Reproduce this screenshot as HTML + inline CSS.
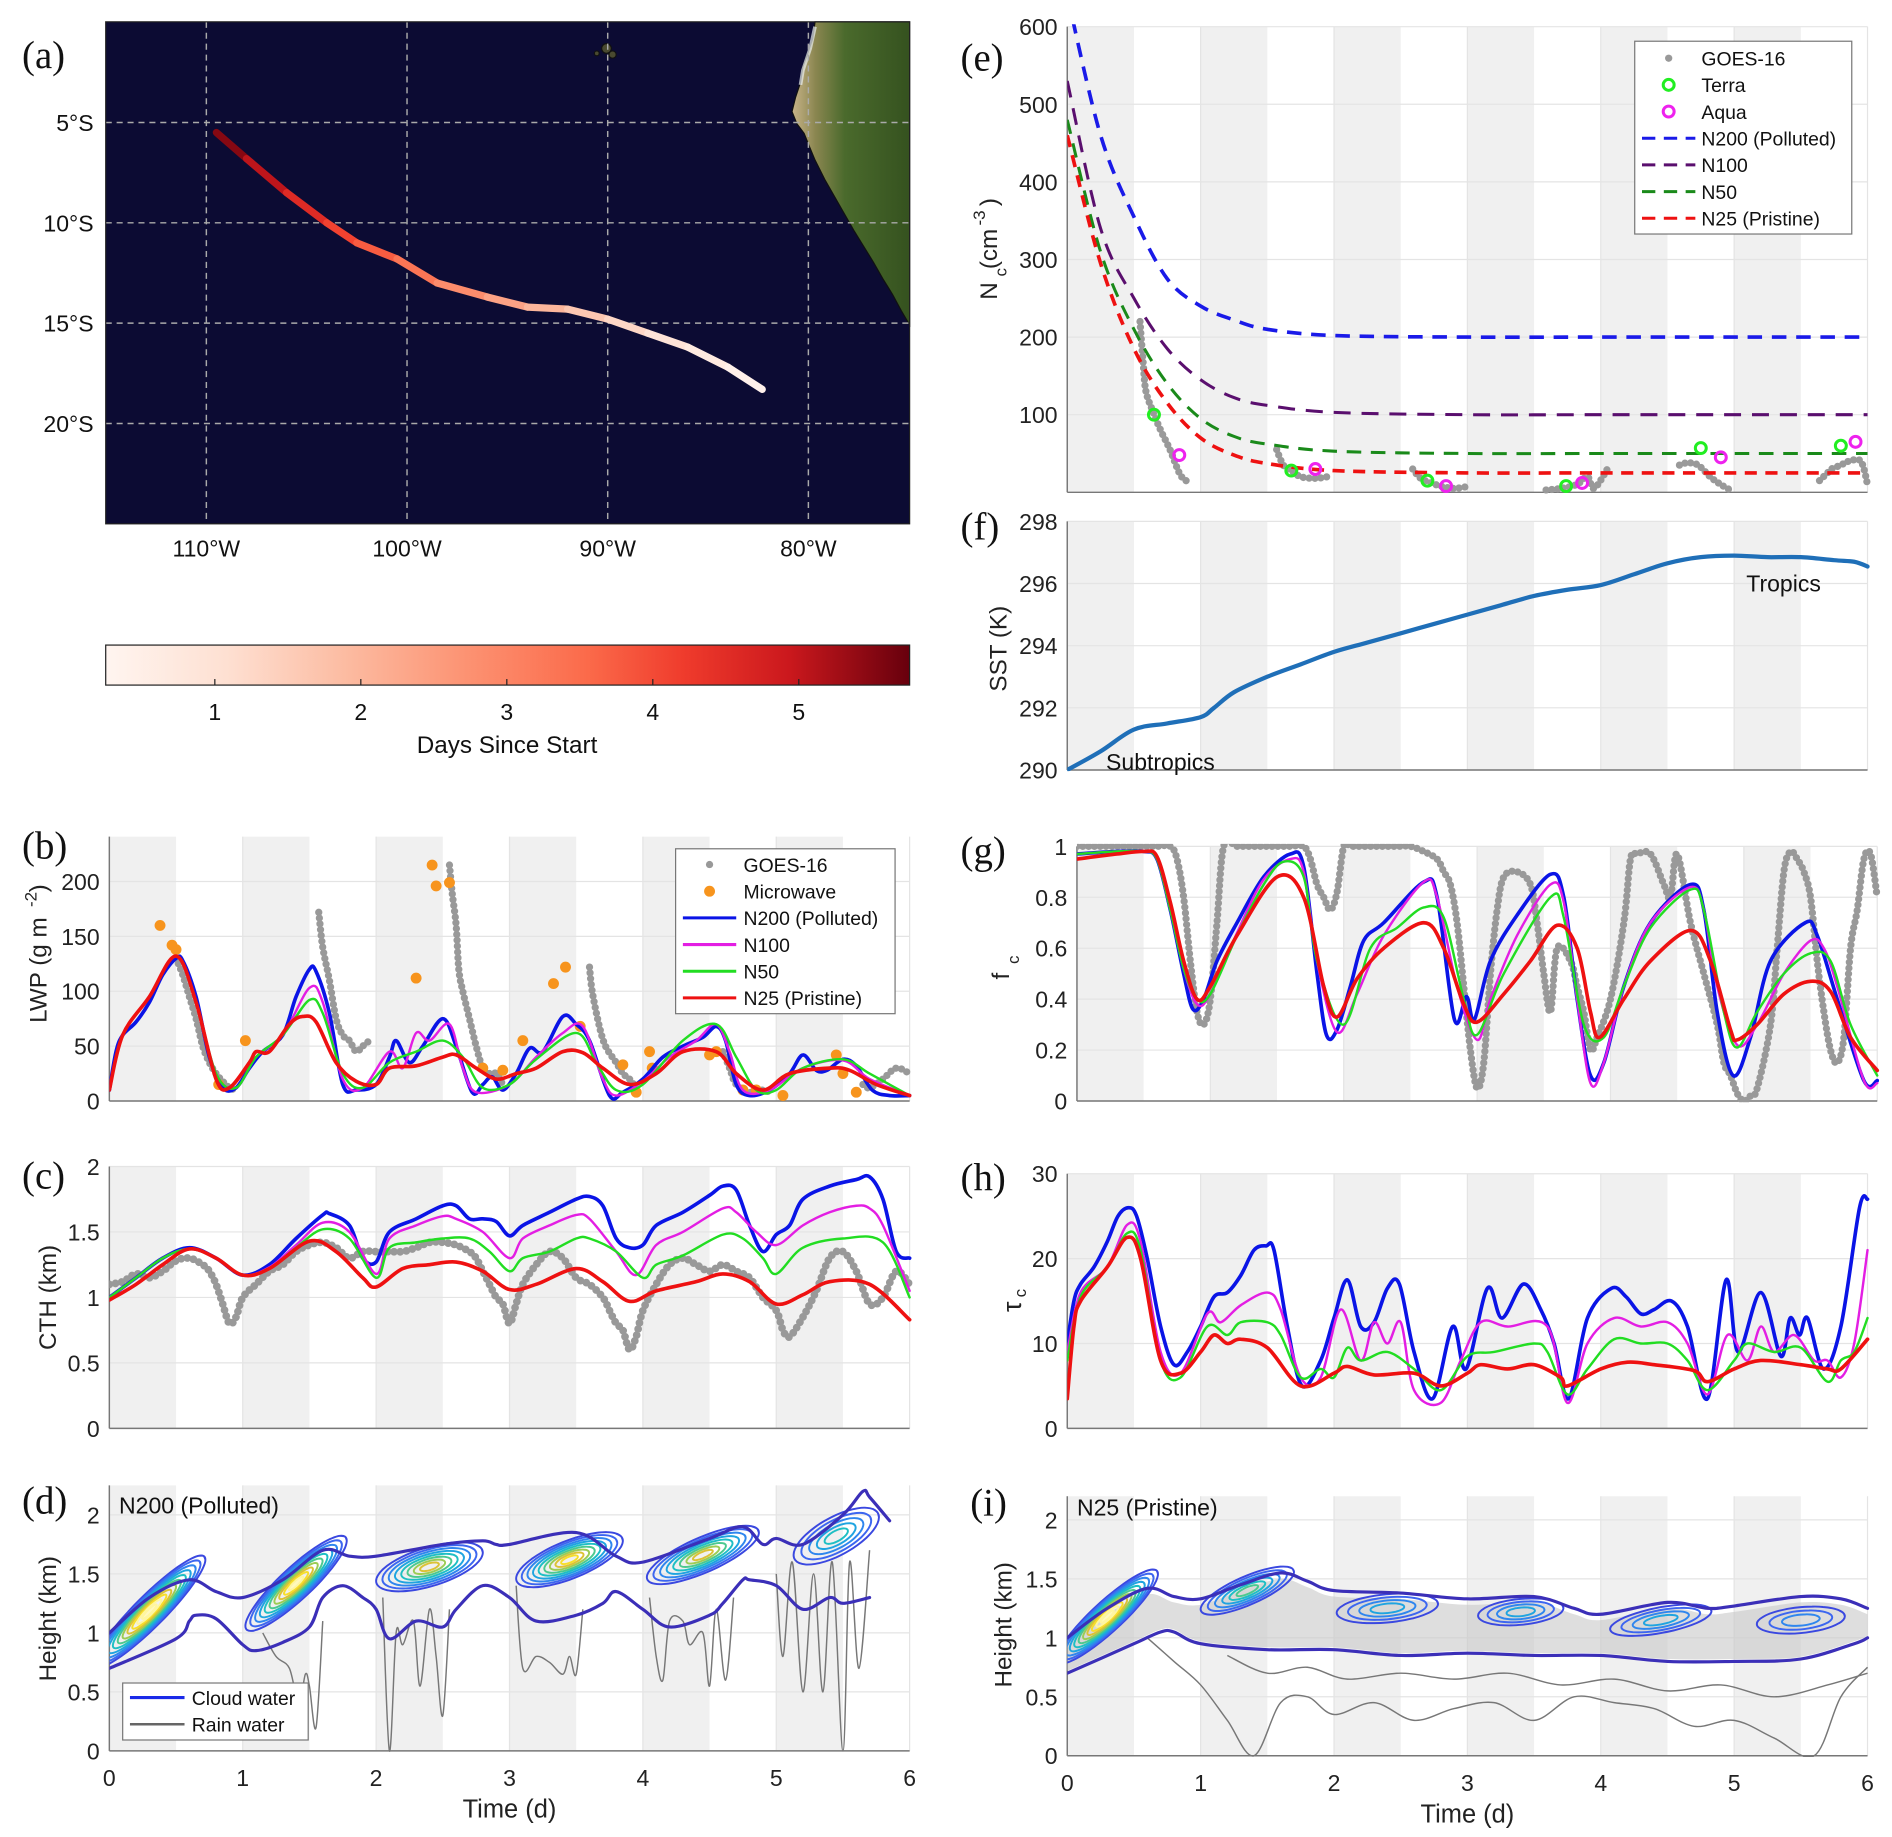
<!DOCTYPE html>
<html><head><meta charset="utf-8">
<style>
html,body{margin:0;padding:0;background:#fff;}
svg{display:block;font-family:"Liberation Sans","DejaVu Sans",sans-serif;}
</style></head>
<body>
<svg id="fig" width="1892" height="1837" viewBox="0 0 1560 1515" xmlns="http://www.w3.org/2000/svg">
<defs>
<linearGradient id="redsGrad" x1="0" x2="1" y1="0" y2="0">
<stop offset="0" stop-color="#fff5f0"/><stop offset="0.15" stop-color="#fee0d2"/><stop offset="0.3" stop-color="#fcbba1"/><stop offset="0.45" stop-color="#fc9272"/><stop offset="0.6" stop-color="#fb6a4a"/><stop offset="0.72" stop-color="#ef3b2c"/><stop offset="0.85" stop-color="#cb181d"/><stop offset="1" stop-color="#67000d"/>
</linearGradient>
<linearGradient id="landGrad" x1="0" x2="1" y1="0" y2="0">
<stop offset="0" stop-color="#c9b48a"/><stop offset="0.2" stop-color="#8a8650"/><stop offset="0.45" stop-color="#4a6a2c"/><stop offset="1" stop-color="#35521f"/>
</linearGradient>
<clipPath id="clipMap"><rect x="87" y="18" width="663" height="414"/></clipPath>
</defs>
<g id="root"></g>
</svg>
<script>
// ================= DATA =================
const trackLon=[-109.5,-108,-106,-104,-102.5,-100.5,-98.5,-96,-94,-92,-90,-88,-86,-84,-82.3];
const trackLat=[-5.5,-6.8,-8.5,-10,-11,-11.8,-13,-13.7,-14.2,-14.3,-14.8,-15.5,-16.2,-17.2,-18.3];
const trackDays=[5.7,5.3,4.8,4.3,3.95,3.55,3.1,2.6,2.2,1.8,1.45,1.1,0.8,0.5,0.3];
const lonTicks=[-110,-100,-90,-80];
const latTicks=[-5,-10,-15,-20];
const cbTicks=[1,2,3,4,5];
const dayTicks=[0,1,2,3,4,5,6];
const nightStartB=[0,1.0,2.0,3.0,4.0,5.0];

// Panel (b) LWP
const bBlueT=[0,.05,.1,.2,.3,.4,.5,.55,.65,.75,.85,.95,1.05,1.15,1.3,1.4,1.5,1.55,1.65,1.75,1.85,2.0,2.1,2.15,2.25,2.35,2.5,2.6,2.72,2.8,2.87,2.95,3.05,3.15,3.25,3.4,3.5,3.6,3.75,3.85,4.0,4.15,4.3,4.45,4.55,4.62,4.7,4.8,4.95,5.1,5.2,5.3,5.38,5.5,5.6,5.72,5.85,6.0];
const bBlueV=[10,45,60,72,90,115,130,128,95,40,12,12,30,45,60,95,120,118,80,15,10,15,40,55,35,50,75,50,8,15,22,10,25,48,45,77,70,55,5,8,20,40,50,58,68,55,15,5,10,25,42,28,28,38,32,10,5,5];
const bMagT=[0,.1,.3,.5,.65,.8,.95,1.1,1.3,1.5,1.6,1.75,1.9,2.1,2.2,2.3,2.4,2.55,2.65,2.75,3.0,3.2,3.4,3.55,3.7,3.8,4.0,4.2,4.4,4.55,4.65,4.75,4.95,5.2,5.5,5.7,6.0];
const bMagV=[10,60,95,132,90,25,12,40,60,103,90,20,12,45,30,62,55,70,30,8,15,40,62,68,20,5,18,40,55,70,45,10,10,30,37,20,5];
const bGrnT=[0,.1,.3,.5,.65,.8,.95,1.1,1.3,1.5,1.6,1.75,1.9,2.1,2.3,2.5,2.65,2.8,3.0,3.2,3.5,3.65,3.8,4.0,4.3,4.55,4.7,4.85,5.0,5.2,5.5,5.7,6.0];
const bGrnV=[10,60,95,132,90,25,12,40,60,92,80,25,12,35,45,55,40,12,15,38,62,35,10,15,55,70,40,10,10,30,38,25,5];
const bRedT=[0,.1,.3,.5,.65,.8,.9,1.05,1.1,1.2,1.35,1.45,1.55,1.7,1.85,2.0,2.1,2.3,2.5,2.6,2.75,2.9,3.05,3.2,3.4,3.55,3.7,3.9,4.1,4.3,4.55,4.7,4.9,5.1,5.4,5.55,5.75,6.0];
const bRedV=[10,60,95,132,90,20,12,35,45,45,70,77,72,35,18,15,30,32,40,42,30,20,25,30,45,44,30,15,25,45,45,25,10,25,30,28,15,5];
const bGoesT=[[.5,.55,.6,.65,.7,.75,.8,.85,.9,.95],[1.57,1.6,1.65,1.7,1.75,1.8,1.85,1.9,1.95],[2.55,2.57,2.6,2.62,2.65,2.7,2.75,2.8,2.85,2.9,2.95],[3.6,3.62,3.67,3.72,3.8,3.85,3.9,3.95],[4.6,4.65,4.7,4.8,4.9,4.95],[5.65,5.7,5.8,5.9,6.0]];
const bGoesV=[[130,115,95,75,50,35,25,18,12,10],[172,140,110,75,60,55,45,50,55],[215,190,160,120,100,75,50,30,25,25,15],[122,100,70,50,35,25,20,12],[45,30,15,8,10,8],[15,12,20,30,25]];
const mwT=[0.38,0.47,0.5,0.82,1.02,2.3,2.42,2.45,2.55,2.8,2.95,3.1,3.33,3.42,3.53,3.85,3.95,4.05,4.07,4.5,4.55,4.75,4.85,5.05,5.45,5.5,5.6];
const mwV=[160,142,138,15,55,112,215,196,199,30,28,55,107,122,68,33,8,45,30,42,45,10,10,5,42,25,8];
const bTicks=[0,50,100,150,200];

// Panel (c) CTH
const cBlueT=[0,.2,.4,.6,.8,1.0,1.2,1.4,1.6,1.65,1.8,1.9,2.0,2.1,2.3,2.5,2.6,2.7,2.8,2.9,3.0,3.1,3.3,3.5,3.6,3.7,3.8,3.9,4.0,4.1,4.3,4.5,4.6,4.7,4.8,4.9,5.0,5.1,5.2,5.4,5.6,5.7,5.8,5.9,6.0];
const cBlueV=[1.0,1.15,1.3,1.38,1.3,1.17,1.25,1.45,1.63,1.64,1.55,1.3,1.27,1.5,1.6,1.7,1.7,1.6,1.6,1.58,1.47,1.55,1.65,1.75,1.77,1.7,1.45,1.38,1.4,1.55,1.65,1.78,1.85,1.82,1.55,1.35,1.48,1.55,1.75,1.85,1.9,1.92,1.75,1.35,1.3];
const cMagT=[0,.2,.4,.6,.8,1.0,1.2,1.4,1.6,1.8,2.0,2.1,2.3,2.5,2.6,2.8,3.0,3.1,3.3,3.5,3.6,3.8,3.95,4.1,4.3,4.6,4.7,4.85,5.0,5.2,5.4,5.6,5.7,5.8,6.0];
const cMagV=[1.0,1.15,1.3,1.37,1.3,1.17,1.23,1.4,1.57,1.5,1.18,1.45,1.55,1.62,1.6,1.5,1.3,1.45,1.55,1.63,1.6,1.35,1.17,1.4,1.5,1.68,1.65,1.5,1.4,1.55,1.65,1.7,1.68,1.55,1.05];
const cGrnT=[0,.2,.4,.6,.8,1.0,1.2,1.4,1.6,1.8,2.0,2.1,2.3,2.5,2.7,2.85,3.0,3.1,3.3,3.5,3.6,3.8,4.0,4.1,4.3,4.6,4.75,4.9,5.0,5.2,5.5,5.8,6.0];
const cGrnV=[1.0,1.15,1.3,1.37,1.3,1.17,1.22,1.38,1.52,1.45,1.15,1.38,1.42,1.45,1.45,1.35,1.2,1.3,1.35,1.45,1.45,1.35,1.15,1.25,1.32,1.48,1.45,1.3,1.18,1.38,1.45,1.42,1.0];
const cRedT=[0,.2,.4,.6,.8,1.0,1.2,1.5,1.7,1.9,2.0,2.2,2.4,2.6,2.8,3.0,3.2,3.5,3.7,3.9,4.1,4.4,4.6,4.8,5.0,5.2,5.4,5.7,6.0];
const cRedV=[0.98,1.1,1.25,1.37,1.3,1.17,1.22,1.43,1.35,1.15,1.08,1.22,1.25,1.27,1.2,1.06,1.1,1.22,1.12,0.97,1.05,1.12,1.18,1.12,0.95,1.02,1.12,1.1,0.83];
const cGoesT=[[0,.1,.2,.3,.4,.5,.6,.7,.75,.8,.85,.9,.95,1.0,1.1,1.2,1.3,1.4,1.5,1.6,1.7,1.8,1.9,2.0,2.1,2.2,2.3,2.4,2.5,2.6,2.7,2.75,2.8,2.85,2.9,2.95,3.0,3.05,3.1,3.2,3.3,3.4,3.5,3.6,3.7,3.75,3.8,3.85,3.9,3.95,4.0,4.1,4.2,4.3,4.4,4.5,4.6,4.7,4.8,4.9,5.0,5.05,5.1,5.2,5.3,5.4,5.5,5.6,5.7,5.8,5.9,6.0]];
const cGoesV=[[1.1,1.12,1.18,1.15,1.2,1.28,1.3,1.25,1.2,1.1,0.95,0.8,0.85,1.0,1.1,1.2,1.25,1.35,1.4,1.42,1.38,1.3,1.35,1.35,1.35,1.35,1.38,1.42,1.42,1.4,1.35,1.3,1.2,1.1,1.0,0.95,0.8,0.95,1.1,1.25,1.35,1.3,1.15,1.1,1.0,0.9,0.8,0.75,0.6,0.7,0.9,1.1,1.25,1.3,1.25,1.2,1.25,1.2,1.15,1.0,0.9,0.75,0.7,0.85,1.05,1.3,1.35,1.2,0.95,1.0,1.2,1.1]];
const cTicks=[0,0.5,1,1.5,2];

// Panel (d) contours N200
const dTopT=[0,.3,.6,.8,1.0,1.3,1.6,1.8,2.0,2.5,2.8,2.9,3.0,3.5,3.8,4.0,4.5,4.75,4.9,5.0,5.2,5.5,5.65,5.7,5.85];
const dTopV=[1.0,1.3,1.45,1.35,1.3,1.45,1.7,1.65,1.65,1.75,1.78,1.75,1.75,1.85,1.65,1.6,1.8,1.9,1.75,1.8,1.75,2.0,2.2,2.15,1.95];
const dBotT=[0,.5,.6,.65,.8,1.0,1.1,1.3,1.5,1.6,1.75,1.9,2.0,2.1,2.3,2.5,2.6,2.8,3.0,3.2,3.5,3.7,3.8,4.0,4.2,4.5,4.6,4.75,4.8,5.0,5.2,5.4,5.5,5.7];
const dBotV=[0.7,0.95,1.1,1.15,1.12,0.9,0.85,0.92,1.05,1.3,1.4,1.3,1.2,0.95,1.1,1.05,1.2,1.4,1.3,1.1,1.15,1.25,1.35,1.2,1.05,1.15,1.25,1.45,1.45,1.4,1.2,1.3,1.25,1.3];
const dBlobT=[0.3,1.4,2.4,3.45,4.45,5.45];
const dBlobH=[1.18,1.42,1.56,1.62,1.66,1.82];
const dBlobW=[0.42,0.38,0.4,0.4,0.42,0.32];
const dBlobHH=[0.18,0.18,0.17,0.17,0.16,0.18];
const dBlobLevels=[11,10,8,9,8,5];
const dRainT=[[1.15,1.25,1.35,1.42,1.47,1.5,1.55,1.6],[2.05,2.1,2.15,2.2,2.28,2.33,2.4,2.45,2.5,2.55],[3.05,3.1,3.2,3.3,3.4,3.45,3.5,3.55],[4.05,4.1,4.15,4.2,4.3,4.35,4.45,4.5,4.55,4.62,4.68],[5.0,5.05,5.12,5.2,5.28,5.35,5.42,5.5,5.55,5.62,5.7]];
const dRainV=[[1.0,0.8,0.7,0.4,0.65,0.55,0.2,1.1],[1.3,0.0,1.0,0.9,1.1,0.55,1.2,0.8,0.3,1.2],[1.4,0.7,0.8,0.75,0.65,0.8,0.65,1.2],[1.3,0.8,0.6,1.1,1.1,0.9,1.0,0.55,1.2,0.6,1.3],[1.5,0.8,1.6,0.5,1.5,0.5,1.6,0.0,1.6,0.7,1.7]];

// Panel (e) Nc
const eT=[0,0.25,0.5,0.75,1.0,1.25,1.5,2.0,3.0,4.0,5.0,6.0];
const eN200=[640,460,355,275,240,222,210,202,200,200,200,200];
const eN100=[530,340,250,185,145,122,112,103,100,100,100,100];
const eN50=[480,310,210,140,95,72,62,53,50,50,50,50];
const eN25=[460,295,185,115,70,48,37,28,25,25,25,25];
const eGoesT=[[0.545,0.57,0.59,0.64,0.7,0.77,0.84,0.89,0.92],[1.57,1.62,1.68,1.75,1.86,1.95],[2.59,2.65,2.73,2.8,2.9,3.02],[3.59,3.7,3.82,3.9,3.95,4.05],[4.59,4.65,4.73,4.82,4.9,4.98],[5.64,5.7,5.73,5.8,5.86,5.95,6.0]];
const eGoesV=[[220,165,130,105,80,55,25,15,18],[55,35,28,20,18,20],[30,18,12,8,5,8],[3,5,10,20,5,30],[35,38,35,20,10,2],[15,25,30,35,40,40,10]];
const terraT=[0.65,1.68,2.7,3.74,4.75,5.8];
const terraV=[100,28,15,8,57,60];
const aquaT=[0.84,1.86,2.84,3.86,4.9,5.91];
const aquaV=[48,30,8,12,45,65];
const eTicks=[100,200,300,400,500,600];

// Panel (f) SST
const fT=[0,.25,.5,.75,1.0,1.1,1.25,1.5,1.75,2.0,2.25,2.5,2.75,3.0,3.25,3.5,3.75,4.0,4.25,4.5,4.75,5.0,5.25,5.5,5.75,5.9,6.0];
const fV=[290,290.6,291.3,291.5,291.7,292,292.5,293,293.4,293.8,294.1,294.4,294.7,295.0,295.3,295.6,295.8,295.95,296.3,296.65,296.85,296.9,296.85,296.85,296.75,296.7,296.55];
const fTicks=[290,292,294,296,298];

// Panel (g) fc
const gBlueT=[0,.3,.5,.6,.7,.8,.87,.95,1.05,1.2,1.4,1.6,1.7,1.8,1.87,1.95,2.05,2.15,2.3,2.6,2.7,2.83,2.92,2.98,3.1,3.3,3.55,3.65,3.75,3.85,3.95,4.1,4.3,4.6,4.7,4.8,4.92,5.05,5.2,5.46,5.55,5.7,5.9,6.0];
const gBlueV=[0.97,0.98,0.98,0.95,0.75,0.5,0.36,0.4,0.55,0.7,0.88,0.97,0.92,0.5,0.26,0.28,0.45,0.63,0.7,0.86,0.8,0.32,0.41,0.32,0.55,0.73,0.89,0.8,0.4,0.1,0.15,0.45,0.7,0.85,0.75,0.35,0.1,0.25,0.55,0.7,0.65,0.4,0.08,0.08];
const gMagT=[0,.3,.5,.6,.7,.8,.9,1.0,1.2,1.4,1.6,1.7,1.8,1.95,2.1,2.3,2.6,2.7,2.85,3.0,3.1,3.3,3.55,3.65,3.75,3.85,3.95,4.1,4.3,4.6,4.7,4.8,4.95,5.1,5.3,5.5,5.6,5.7,5.9,6.0];
const gMagV=[0.97,0.98,0.98,0.95,0.75,0.52,0.38,0.42,0.66,0.87,0.95,0.9,0.55,0.27,0.42,0.65,0.86,0.8,0.45,0.24,0.4,0.65,0.85,0.78,0.4,0.07,0.15,0.45,0.7,0.84,0.75,0.45,0.22,0.3,0.5,0.63,0.6,0.45,0.08,0.07];
const gGrnT=[0,.3,.5,.6,.7,.8,.9,1.0,1.2,1.4,1.55,1.7,1.8,2.0,2.2,2.4,2.6,2.75,2.9,3.0,3.2,3.55,3.65,3.8,3.95,4.1,4.3,4.6,4.7,4.85,4.95,5.1,5.3,5.5,5.65,5.8,6.0];
const gGrnV=[0.97,0.98,0.98,0.95,0.75,0.52,0.4,0.42,0.65,0.85,0.94,0.88,0.55,0.3,0.6,0.68,0.76,0.72,0.4,0.26,0.5,0.8,0.72,0.3,0.25,0.45,0.68,0.83,0.75,0.35,0.21,0.35,0.5,0.58,0.55,0.3,0.1];
const gRedT=[0,.3,.5,.6,.7,.8,.9,1.0,1.2,1.5,1.7,1.85,1.95,2.1,2.3,2.6,2.75,2.9,3.0,3.2,3.4,3.6,3.75,3.85,3.92,4.1,4.3,4.6,4.75,4.9,4.95,5.1,5.3,5.5,5.65,5.8,6.0];
const gRedV=[0.95,0.97,0.98,0.96,0.78,0.55,0.4,0.45,0.65,0.88,0.8,0.45,0.33,0.48,0.6,0.7,0.6,0.38,0.31,0.42,0.55,0.69,0.6,0.35,0.25,0.4,0.55,0.67,0.55,0.28,0.24,0.3,0.42,0.47,0.43,0.25,0.12];
const gGoesT=[[0,.1,.2,.3,.4,.5,.6,.7,.75,.8,.85,.9,.95,1.0,1.05,1.1,1.2,1.3,1.4,1.5,1.6,1.7,1.75,1.8,1.85,1.9,1.95,2.0,2.05,2.1,2.2,2.3,2.4,2.5,2.6,2.7,2.75,2.8,2.85,2.9,2.95,3.0,3.05,3.1,3.15,3.2,3.3,3.4,3.45,3.5,3.55,3.6,3.7,3.75,3.8,3.85,3.9,4.0,4.1,4.15,4.2,4.3,4.4,4.45,4.5,4.6,4.7,4.8,4.85,4.9,4.95,5.0,5.05,5.1,5.2,5.25,5.3,5.35,5.4,5.45,5.5,5.55,5.6,5.65,5.7,5.75,5.8,5.85,5.9,5.95,6.0]];
const gGoesV=[[1,1,1,1,1,1,1,1,0.95,0.8,0.55,0.35,0.3,0.4,0.7,1,1,1,1,1,1,1,0.95,0.85,0.8,0.75,0.82,1,1,1,1,1,1,1,0.98,0.95,0.9,0.85,0.7,0.45,0.2,0.05,0.15,0.5,0.75,0.88,0.9,0.85,0.7,0.5,0.35,0.6,0.55,0.45,0.35,0.2,0.25,0.4,0.7,0.95,0.97,0.97,0.85,0.8,0.97,0.7,0.5,0.3,0.15,0.1,0.03,0.0,0.02,0.05,0.3,0.6,0.9,0.98,0.95,0.9,0.8,0.55,0.35,0.2,0.15,0.25,0.6,0.75,0.95,0.97,0.8]];
const gTicks=[0,0.2,0.4,0.6,0.8,1];

// Panel (h) tau
const hBlueT=[0,.05,.1,.2,.3,.38,.46,.52,.6,.7,.8,.9,1.0,1.1,1.2,1.3,1.4,1.49,1.55,1.65,1.76,1.9,2.0,2.1,2.2,2.3,2.4,2.49,2.6,2.74,2.89,2.99,3.15,3.26,3.42,3.55,3.65,3.76,3.9,4.08,4.19,4.3,4.4,4.53,4.65,4.8,4.94,5.03,5.2,5.35,5.42,5.49,5.55,5.67,5.8,5.94,6.0];
const hBlueV=[10,15,17,19,22,25,26,25,20,12,7.5,9,12,15.5,16,18,21,21.5,21,12,5,8,13,17.5,12,12.5,16.5,17,9,3.5,12,7,16.5,13,17,14,10,3.5,13,16.5,15.5,13.5,14,15,12,3.5,17.5,9,16,8.5,13,11,13,7,12,26,27];
const hMagT=[0,.1,.3,.45,.55,.7,.85,1.05,1.15,1.3,1.5,1.6,1.75,1.9,2.05,2.2,2.3,2.4,2.5,2.6,2.8,2.95,3.1,3.3,3.6,3.75,3.9,4.1,4.3,4.5,4.65,4.8,4.95,5.1,5.2,5.3,5.45,5.6,5.7,5.8,5.9,6.0];
const hMagV=[9,16,19,24,22,9,6.5,13.5,12.5,14.5,16,14,6,6,14,8,12.5,10,12.5,4.5,3,8,12.5,12,12,3,10,13,12,12.5,10,4,11,8,12,9,11,8,8,6,10,21];
const hGrnT=[0,.1,.3,.45,.55,.7,.85,1.05,1.2,1.3,1.5,1.6,1.75,1.9,2.0,2.1,2.2,2.4,2.6,2.8,3.0,3.2,3.5,3.6,3.75,3.9,4.1,4.3,4.5,4.65,4.8,5.0,5.1,5.3,5.5,5.7,5.8,5.9,6.0];
const hGrnV=[8,15.5,19,23,21,8,6,12,11,12.5,12.5,11,6,7,6,9.5,8,9,7,4.5,8.5,9,10,9,4,7,10.5,10,10,8,4.5,8,10,9,9.5,5.5,8,9,13];
const hRedT=[0,.05,.1,.3,.45,.55,.7,.85,1.0,1.1,1.2,1.3,1.5,1.75,2.0,2.1,2.3,2.6,2.8,3.0,3.1,3.3,3.5,3.7,3.75,4.0,4.2,4.4,4.7,4.8,5.0,5.2,5.5,5.7,5.8,6.0];
const hRedV=[3.5,12,15,19,22.5,20,8,6.5,9,11,10,10.5,9.5,5,6.5,7.3,6.3,6.5,5,6.5,7.5,7,7.5,6,5,7,7.8,7.5,6.8,5.5,7,8,7.5,7,7,10.5];
const hTicks=[0,10,20,30];

// Panel (i) contours N25
const iTopT=[0,.3,.6,.8,1.0,1.3,1.6,1.8,2.0,2.5,3.0,3.5,3.8,4.0,4.5,4.8,5.0,5.5,5.8,6.0];
const iTopV=[1.0,1.25,1.42,1.35,1.33,1.45,1.55,1.48,1.4,1.38,1.33,1.35,1.25,1.2,1.3,1.25,1.27,1.35,1.33,1.25];
const iBotT=[0,.5,.7,.8,1.0,1.5,2.0,2.5,3.0,3.5,4.0,4.5,5.0,5.5,5.9,6.0];
const iBotV=[0.7,0.95,1.05,1.05,0.95,0.9,0.9,0.85,0.87,0.85,0.85,0.8,0.8,0.82,0.95,1.0];
const iBlobT=[0.3,1.35,2.4,3.4,4.45,5.5];
const iBlobH=[1.18,1.4,1.25,1.22,1.15,1.15];
const iBlobW=[0.38,0.35,0.38,0.32,0.38,0.33];
const iBlobHH=[0.17,0.13,0.12,0.11,0.11,0.11];
const iBlobLevels=[11,6,4,4,4,3];
const iRainT=[[0.6,0.8,1.0,1.2,1.4,1.6,1.8,2.0,2.3,2.6,2.9,3.2,3.5,3.8,4.1,4.4,4.7,5.0,5.3,5.6,5.8,6.0],[1.2,1.5,1.8,2.1,2.5,2.9,3.3,3.7,4.1,4.5,4.9,5.3,5.7,6.0]];
const iRainV=[[1.0,0.8,0.6,0.3,0.0,0.45,0.5,0.35,0.45,0.3,0.4,0.45,0.3,0.5,0.45,0.4,0.25,0.3,0.15,0.0,0.5,0.75],[0.85,0.7,0.75,0.65,0.7,0.65,0.7,0.6,0.65,0.55,0.6,0.5,0.6,0.7]];
const iTicks=[0,0.5,1,1.5,2];

// ================= DRAWING =================
const NS="http://www.w3.org/2000/svg";
const root=document.getElementById('root');
function el(tag,attrs,parent){const e=document.createElementNS(NS,tag);for(const k in attrs)e.setAttribute(k,attrs[k]);(parent||root).appendChild(e);return e;}
function txt(x,y,s,attrs,parent){const t=el('text',Object.assign({x:x,y:y},attrs||{}),parent);t.textContent=s;return t;}
function smoothPath(pts){
  if(pts.length<2)return '';
  let d='M'+pts[0][0].toFixed(1)+','+pts[0][1].toFixed(1);
  for(let i=0;i<pts.length-1;i++){
    const p0=pts[Math.max(0,i-1)],p1=pts[i],p2=pts[i+1],p3=pts[Math.min(pts.length-1,i+2)];
    const c1=[p1[0]+(p2[0]-p0[0])/6,p1[1]+(p2[1]-p0[1])/6];
    const c2=[p2[0]-(p3[0]-p1[0])/6,p2[1]-(p3[1]-p1[1])/6];
    d+=' C'+c1[0].toFixed(1)+','+c1[1].toFixed(1)+' '+c2[0].toFixed(1)+','+c2[1].toFixed(1)+' '+p2[0].toFixed(1)+','+p2[1].toFixed(1);
  }
  return d;
}
function axes(x0,x1,y0,y1,ymin,ymax,tmin,tmax){
  return {x0,x1,y0,y1,sx:t=>x0+(t-tmin)/(tmax-tmin)*(x1-x0),sy:v=>y1-(v-ymin)/(ymax-ymin)*(y1-y0)};
}
let clipId=0;
function panelFrame(name,A,yTicks,yFmt,showXLabels,bands){
  const g=el('g',{});
  
  
  el('rect',{x:A.x0,y:A.y0,width:A.x1-A.x0,height:A.y1-A.y0,fill:'#fff'},g);
  bands.forEach(b=>{
    const r=el('rect',{x:A.sx(b),y:A.y0,width:A.sx(b+0.5)-A.sx(b),height:A.y1-A.y0,fill:'#f0f0f0'},g);
    
    
  });
  dayTicks.forEach(t=>{el('line',{x1:A.sx(t),x2:A.sx(t),y1:A.y0,y2:A.y1,stroke:'#e4e4e4','stroke-width':1},g);});
  yTicks.forEach(v=>{el('line',{x1:A.x0,x2:A.x1,y1:A.sy(v),y2:A.sy(v),stroke:'#e4e4e4','stroke-width':1},g);});
  el('line',{x1:A.x0,x2:A.x0,y1:A.y0,y2:A.y1,stroke:'#777','stroke-width':1.2},g);
  el('line',{x1:A.x0,x2:A.x1,y1:A.y1,y2:A.y1,stroke:'#777','stroke-width':1.2},g);
  yTicks.forEach(v=>{const t=txt(A.x0-8,A.sy(v)+7,yFmt(v),{'text-anchor':'end','font-size':19,fill:'#222'},g);});
  if(showXLabels) dayTicks.forEach(t=>{const s=txt(A.sx(t),A.y1+29,String(t),{'text-anchor':'middle','font-size':19,fill:'#222'},g);});
  const id='cp'+(clipId++);
  const cp=el('clipPath',{id:id},g);el('rect',{x:A.x0,y:A.y0-2,width:A.x1-A.x0+3,height:A.y1-A.y0+3},cp);
  const inner=el('g',{'clip-path':'url(#'+id+')'},g);
  return inner;
}
function line(g,A,T,V,color,w,name,dash){
  const p=el('path',{d:smoothPath(T.map((t,i)=>[A.sx(t),A.sy(V[i])])),fill:'none',stroke:color,'stroke-width':w,'stroke-linejoin':'round','stroke-linecap':dash?'butt':'round'},g);
  if(dash)p.setAttribute('stroke-dasharray',dash);
  
  
  return p;
}
function goes(g,A,TT,VV,name,r){
  TT.forEach((T,k)=>{
    const V=VV[k];
    const p=el('path',{d:smoothPath(T.map((t,i)=>[A.sx(t),A.sy(V[i])])),fill:'none',stroke:'#999','stroke-width':r*2,'stroke-linecap':'round','stroke-dasharray':'0 '+(r*1.6)},g);
    
    
  });
}
function label(x,y,s){const t=txt(x,y,s,{'font-family':'"Liberation Serif",serif','font-size':32,fill:'#111'});}
function ylab(x,y,s){const t=txt(0,0,s,{'font-size':20,fill:'#222','text-anchor':'middle',transform:'translate('+x+','+y+') rotate(-90)'});return t;}

// ---------- Panel (a) map ----------
(function(){
  const g=el('g',{});
  
  
  const sx=lon=>170+(lon+110)*16.55, sy=lat=>101+(-5-lat)*16.55;
  el('rect',{x:87,y:18,width:663,height:414,fill:'#0c0b33'},g);
  const land=el('path',{d:'M672,18 L670,32 L666,44 L662,55 L660,68 L656,80 L653,92 L657,102 L663,110 L667,120 L672,132 L680,148 L688,162 L696,176 L704,190 L712,203 L720,216 L728,230 L736,243 L743,256 L750,268 L750,18 Z',fill:'url(#landGrad)',stroke:'#111','stroke-width':1},g);
  
  
  el('path',{d:'M672,22 L668,40 L662,58 L660,70',fill:'none',stroke:'#e8eef0','stroke-width':3,opacity:0.7},g);
  [[500,40,4],[505,45,3],[492,44,2]].forEach(p=>{const c=el('circle',{cx:p[0],cy:p[1],r:p[2],fill:'#4a4a30',stroke:'#111'},g);});
  lonTicks.forEach(l=>{el('line',{x1:sx(l),x2:sx(l),y1:18,y2:432,stroke:'#aaa','stroke-width':1.2,'stroke-dasharray':'5,4'},g);
    const t=txt(sx(l),459,(-l)+'°W',{'text-anchor':'middle','font-size':19,fill:'#111'});});
  latTicks.forEach(l=>{el('line',{x1:87,x2:750,y1:sy(l),y2:sy(l),stroke:'#aaa','stroke-width':1.2,'stroke-dasharray':'5,4'},g);
    const t=txt(77,sy(l)+7,(-l)+'°S',{'text-anchor':'end','font-size':19,fill:'#111'});});
  const stops=[[0,[255,245,240]],[0.15,[254,224,210]],[0.3,[252,187,161]],[0.45,[252,146,114]],[0.6,[251,106,74]],[0.72,[239,59,44]],[0.85,[203,24,29]],[1,[103,0,13]]];
  function cmap(d){let f=(d-0.25)/(5.76-0.25);f=Math.max(0,Math.min(1,f));for(let i=0;i<stops.length-1;i++){if(f<=stops[i+1][0]){const a=stops[i],b=stops[i+1],u=(f-a[0])/(b[0]-a[0]);return 'rgb('+a[1].map((c,j)=>Math.round(c+(b[1][j]-c)*u)).join(',')+')';}}return 'rgb(103,0,13)';}
  const tg=el('g',{'clip-path':'url(#clipMap)'},g);
  for(let i=0;i<trackLon.length-1;i++){
    const s=el('line',{x1:sx(trackLon[i]),y1:sy(trackLat[i]),x2:sx(trackLon[i+1]),y2:sy(trackLat[i+1]),stroke:cmap((trackDays[i]+trackDays[i+1])/2),'stroke-width':6,'stroke-linecap':'round'},tg);
    
    
  }
  el('rect',{x:87,y:18,width:663,height:414,fill:'none',stroke:'#222','stroke-width':1},g);
  const cb=el('rect',{x:87,y:532,width:663,height:33,fill:'url(#redsGrad)',stroke:'#222','stroke-width':1},g);
  
  
  const cx=d=>56.6+d*120.4;
  cbTicks.forEach(d=>{el('line',{x1:cx(d),x2:cx(d),y1:560,y2:565,stroke:'#222'},g);
    const t=txt(cx(d),594,String(d),{'text-anchor':'middle','font-size':19,fill:'#111'});});
  const t=txt(418,621,'Days Since Start',{'text-anchor':'middle','font-size':20,fill:'#111'});
  
  label(18,56,'(a)');
})();

// ---------- Panel (b) LWP ----------
(function(){
  const A=axes(90,750,690,908,0,240.9,0,6);
  const g=panelFrame('lwp-panel',A,bTicks,v=>String(v),false,nightStartB);
  goes(g,A,bGoesT,bGoesV,'goes-lwp-points',3);
  mwT.forEach((t,i)=>{const c=el('circle',{cx:A.sx(t),cy:A.sy(mwV[i]),r:4.5,fill:'#f7941d'},g);});
  line(g,A,bBlueT,bBlueV,'#0a14e6',3,'lwp-n200-line');
  line(g,A,bMagT,bMagV,'#e31ee3',2,'lwp-n100-line');
  line(g,A,bGrnT,bGrnV,'#22dd22',2,'lwp-n50-line');
  line(g,A,bRedT,bRedV,'#ee1111',3,'lwp-n25-line');
  ylab(38,800,'LWP (g m');
  txt(0,0,'-2',{'font-size':14,fill:'#222',transform:'translate(30,748) rotate(-90)'});
  txt(0,0,')',{'font-size':20,fill:'#222',transform:'translate(38,736) rotate(-90)'});
  label(18,708,'(b)');
  const lg=el('g',{});
  
  
  el('rect',{x:557,y:700,width:181,height:136,fill:'#fff',stroke:'#777','stroke-width':1},lg);
  const items=[['GOES-16','dot','#999'],['Microwave','dot','#f7941d'],['N200 (Polluted)','line','#0a14e6'],['N100','line','#e31ee3'],['N50','line','#22dd22'],['N25 (Pristine)','line','#ee1111']];
  items.forEach((it,i)=>{const y=713+i*22;
    if(it[1]=='dot')el('circle',{cx:585,cy:y,r:it[2]=='#999'?3:4.5,fill:it[2]},lg);else el('line',{x1:563,x2:607,y1:y,y2:y,stroke:it[2],'stroke-width':2.5},lg);
    const t=txt(613,y+6,it[0],{'font-size':16,fill:'#111'},lg);});
})();

// ---------- Panel (c) CTH ----------
(function(){
  const A=axes(90,750,962,1178,0,2,0,6);
  const g=panelFrame('cth-panel',A,cTicks,v=>String(v),false,nightStartB);
  goes(g,A,cGoesT,cGoesV,'goes-cth-points',3.2);
  line(g,A,cBlueT,cBlueV,'#0a14e6',3,'cth-n200-line');
  line(g,A,cMagT,cMagV,'#e31ee3',2,'cth-n100-line');
  line(g,A,cGrnT,cGrnV,'#22dd22',2,'cth-n50-line');
  line(g,A,cRedT,cRedV,'#ee1111',3,'cth-n25-line');
  ylab(46,1070,'CTH (km)');
  label(18,980,'(c)');
})();

function contourPanel(name,A,topT,topV,botT,botV,bT,bH,bW,bHH,bL,rT,rV,slope,grayFill){
  const g=panelFrame(name,A,[0,0.5,1,1.5,2],v=>String(v),true,nightStartB);
  if(grayFill){
    const pts=topT.map((t,i)=>[A.sx(t),A.sy(topV[i]-0.05)]);
    const pb=botT.map((t,i)=>[A.sx(t),A.sy(botV[i]+0.02)]).reverse();
    const f=el('path',{d:smoothPath(pts)+' L'+smoothPath(pb).slice(1)+' Z',fill:'#c8c8c8',opacity:0.6},g);
    
    
  }
  rT.forEach((T,k)=>{
    const rp=el('path',{d:smoothPath(T.map((t,i)=>[A.sx(t),A.sy(rV[k][i])])),fill:'none',stroke:'#777','stroke-width':1.2},g);
    
    
  });
  const cols=['#3b2fb8','#3a48e0','#3c66f0','#2f86ee','#1fa4e0','#1ebfc4','#4cc98f','#9ccc55','#dcc235','#f7de2a','#fff6a0'];
  bT.forEach((tc,k)=>{
    const n=bL[k];
    for(let j=0;j<n;j++){
      const s=1-j/(n+0.5);
      const pts=[];
      for(let a=0;a<24;a++){const ang=a/24*2*Math.PI;const dt=bW[k]*s*Math.cos(ang);const dh=bHH[k]*s*Math.sin(ang)+slope[k]*dt;pts.push([A.sx(tc+dt),A.sy(bH[k]+dh)]);}
      pts.push(pts[0],pts[1],pts[2]);
      const p=el('path',{d:smoothPath(pts),fill:j==n-1&&n>9?'#fff8c0':'none',stroke:cols[Math.min(cols.length-1,j+1)],'stroke-width':1.6},g);
      
      
    }
  });
  line(g,A,topT,topV,'#3b2fb8',2.6,'cloud-top-contour');
  line(g,A,botT,botV,'#3b2fb8',2.6,'cloud-base-contour');
  const xl=txt((A.x0+A.x1)/2,A.y1+55,'Time (d)',{'text-anchor':'middle','font-size':21,fill:'#222'});
  
  return g;
}
// ---------- Panel (d) ----------
(function(){
  const A=axes(90,750,1225,1444,0,2.25,0,6);
  contourPanel('n200-contour-panel',A,dTopT,dTopV,dBotT,dBotV,dBlobT,dBlobH,dBlobW,dBlobHH,dBlobLevels,dRainT,dRainV,[1.05,0.95,0.3,0.4,0.45,0.5],false);
  ylab(46,1335,'Height (km)');
  label(18,1248,'(d)');
  const t=txt(98,1248,'N200 (Polluted)',{'font-size':19,fill:'#111'});
  const lg=el('g',{});
  
  
  el('rect',{x:101,y:1388,width:153,height:47,fill:'#fff',stroke:'#777'},lg);
  el('line',{x1:107,x2:152,y1:1400,y2:1400,stroke:'#1a2ae8','stroke-width':2.5},lg);
  el('line',{x1:107,x2:152,y1:1422,y2:1422,stroke:'#666','stroke-width':2},lg);
  txt(158,1406,'Cloud water',{'font-size':16,fill:'#111'},lg);
  txt(158,1428,'Rain water',{'font-size':16,fill:'#111'},lg);
})();

// ---------- Panel (e) ----------
(function(){
  const A=axes(880,1540,22,406,0,600,0,6);
  const g=panelFrame('nc-panel',A,eTicks,v=>String(v),false,nightStartB);
  goes(g,A,eGoesT,eGoesV,'goes-nc-points',3);
  line(g,A,eT,eN200,'#1a1ae8',3,'nc-n200-line','12,8');
  line(g,A,eT,eN100,'#5a0f6e',2.5,'nc-n100-line','14,9');
  line(g,A,eT,eN50,'#1a8a1a',2.5,'nc-n50-line','12,8');
  line(g,A,eT,eN25,'#ee1111',3,'nc-n25-line','10,7');
  terraT.forEach((t,i)=>{const c=el('circle',{cx:A.sx(t),cy:A.sy(terraV[i]),r:4.5,fill:'none',stroke:'#22ee22','stroke-width':2.5},g);});
  aquaT.forEach((t,i)=>{const c=el('circle',{cx:A.sx(t),cy:A.sy(aquaV[i]),r:4.5,fill:'none',stroke:'#ee22ee','stroke-width':2.5},g);});
  ylab(822,240,'N');
  txt(0,0,'c',{'font-size':14,fill:'#222',transform:'translate(830,228) rotate(-90)'});
  txt(0,0,'(cm',{'font-size':20,fill:'#222',transform:'translate(822,222) rotate(-90)'});
  txt(0,0,'-3',{'font-size':14,fill:'#222',transform:'translate(812,186) rotate(-90)'});
  txt(0,0,')',{'font-size':20,fill:'#222',transform:'translate(822,170) rotate(-90)'});
  label(792,58,'(e)');
  const lg=el('g',{});
  
  
  el('rect',{x:1348,y:34,width:179,height:159,fill:'#fff',stroke:'#777'},lg);
  const items=[['GOES-16','dot','#999'],['Terra','ring','#22ee22'],['Aqua','ring','#ee22ee'],['N200 (Polluted)','dash','#1a1ae8'],['N100','dash','#5a0f6e'],['N50','dash','#1a8a1a'],['N25 (Pristine)','dash','#ee1111']];
  items.forEach((it,i)=>{const y=48+i*22;
    if(it[1]=='dot')el('circle',{cx:1376,cy:y,r:3,fill:it[2]},lg);
    else if(it[1]=='ring')el('circle',{cx:1376,cy:y,r:4.5,fill:'none',stroke:it[2],'stroke-width':2.5},lg);
    else el('line',{x1:1354,x2:1398,y1:y,y2:y,stroke:it[2],'stroke-width':2.5,'stroke-dasharray':'11,7'},lg);
    const t=txt(1403,y+6,it[0],{'font-size':16,fill:'#111'},lg);});
})();

// ---------- Panel (f) ----------
(function(){
  const A=axes(880,1540,430,635,290,298,0,6);
  const g=panelFrame('sst-panel',A,fTicks,v=>String(v),false,nightStartB);
  line(g,A,fT,fV,'#1f6fb8',3.5,'sst-line');
  ylab(830,535,'SST (K)');
  label(792,445,'(f)');
  const a=txt(912,635,'Subtropics',{'font-size':19,fill:'#111'});
  const b=txt(1440,488,'Tropics',{'font-size':19,fill:'#111'});
})();

// ---------- Panel (g) ----------
(function(){
  const A=axes(888,1548,698,908,0,1,0,6);
  const g=panelFrame('fc-panel',A,gTicks,v=>String(v),false,nightStartB);
  goes(g,A,gGoesT,gGoesV,'goes-fc-points',3);
  line(g,A,gBlueT,gBlueV,'#0a14e6',3,'fc-n200-line');
  line(g,A,gMagT,gMagV,'#e31ee3',2,'fc-n100-line');
  line(g,A,gGrnT,gGrnV,'#22dd22',2,'fc-n50-line');
  line(g,A,gRedT,gRedV,'#ee1111',3,'fc-n25-line');
  ylab(832,805,'f');
  txt(0,0,'c',{'font-size':14,fill:'#222',transform:'translate(840,795) rotate(-90)'});
  label(792,712,'(g)');
})();

// ---------- Panel (h) ----------
(function(){
  const A=axes(880,1540,968,1178,0,30,0,6);
  const g=panelFrame('tau-panel',A,hTicks,v=>String(v),false,nightStartB);
  line(g,A,hBlueT,hBlueV,'#0a14e6',3,'tau-n200-line');
  line(g,A,hMagT,hMagV,'#e31ee3',2,'tau-n100-line');
  line(g,A,hGrnT,hGrnV,'#22dd22',2,'tau-n50-line');
  line(g,A,hRedT,hRedV,'#ee1111',3,'tau-n25-line');
  const t=txt(0,0,'τ',{'font-size':22,fill:'#222',transform:'translate(842,1082) rotate(-90)'});
  txt(0,0,'c',{'font-size':14,fill:'#222',transform:'translate(846,1070) rotate(-90)'});
  label(792,982,'(h)');
})();

// ---------- Panel (i) ----------
(function(){
  const A=axes(880,1540,1234,1448,0,2.2,0,6);
  contourPanel('n25-contour-panel',A,iTopT,iTopV,iBotT,iBotV,iBlobT,iBlobH,iBlobW,iBlobHH,iBlobLevels,iRainT,iRainV,[0.95,0.45,0.1,0.1,0.2,0.1],true);
  ylab(834,1340,'Height (km)');
  label(800,1250,'(i)');
  const t=txt(888,1250,'N25 (Pristine)',{'font-size':19,fill:'#111'});
})();
</script>
</body></html>
